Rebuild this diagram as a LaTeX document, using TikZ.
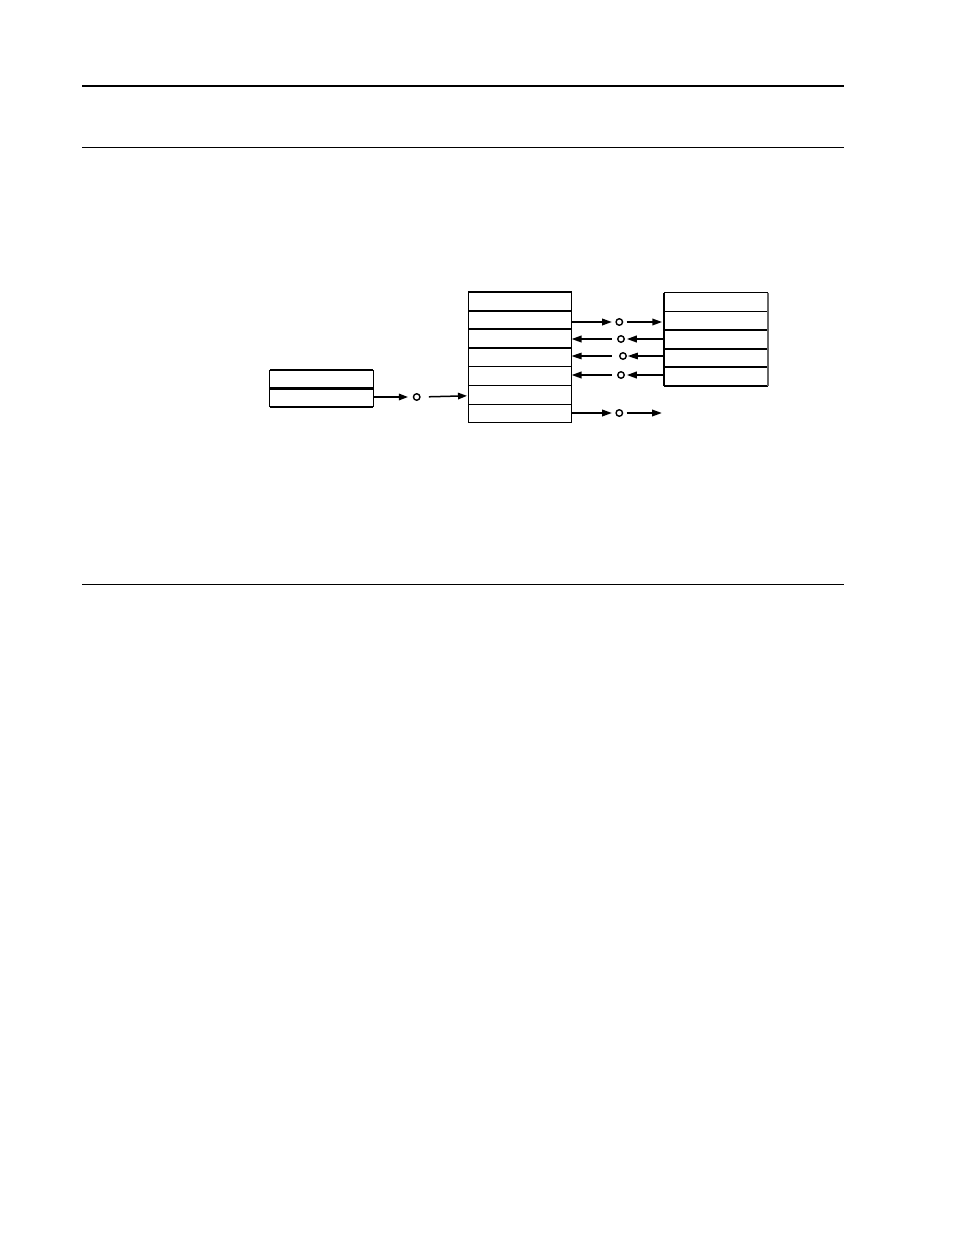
\documentclass[tikz,border=0pt]{standalone}
\usetikzlibrary{arrows.meta}
\begin{document}
\begin{tikzpicture}[x=1pt,y=-1pt,
  cell/.style={draw, line width=1pt, rectangle, minimum width=103.5pt, minimum height=18.7pt, inner sep=0pt, outer sep=0pt},
  lcell/.style={cell, minimum height=18.35pt},
  heavy/.style={line width=1.9pt},
  junction/.style={draw, circle, line width=1.4pt, minimum size=6.5pt, inner sep=0pt, outer sep=0pt},
  arr/.style={line width=2pt, -{Triangle[length=10pt,width=6.5pt]}},
  thinarr/.style={line width=1.1pt, -{Triangle[length=10pt,width=6.5pt]}},
  rule/.style={line width=1pt}
]
\useasboundingbox (0,0) rectangle (954,1235);

% page rules
\draw[rule, line width=2pt] (82,86) -- (844,86);
\draw[rule] (82,147.5) -- (844,147.5);
\draw[rule] (82,584.5) -- (844,584.5);

% middle stack
\foreach \i in {1,...,7}
  \node[cell] (m\i) at (519.75,{292+18.714*(\i-0.5)}) {};
\draw[heavy] (m1.north west) -- (m1.north east);
\draw[heavy] (m2.north west) -- (m2.north east);
\draw[heavy] (m3.north west) -- (m3.north east);
\draw[heavy] (m4.north west) -- (m4.north east);
\draw[heavy] (m3.north east) -- (m4.south east);

% right stack
\foreach \i in {1,...,5}
  \node[cell] (r\i) at (716,{292.7+18.66*(\i-0.5)}) {};
\draw[heavy] (r3.north west) -- (r3.north east);
\draw[heavy] (r4.north west) -- (r4.north east);
\draw[heavy] (r5.north west) -- (r5.north east);
\draw[heavy] (r5.south west) -- (r5.south east);
\draw[heavy] (r1.north west) -- (r5.south west);
\draw[heavy, draw=black!60] (r1.north east) -- (r5.south east);

% left stack
\foreach \i in {1,2}
  \node[lcell] (l\i) at (321.65,{370+18.35*(\i-0.5)}) {};
\draw[heavy] (l1.north west) -- (l1.north east);
\draw[line width=2.6pt] (l2.north west) -- (l2.north east);
\draw[heavy] (l2.south west) -- (l2.south east);

% junctions
\node[junction] (c0) at (416.7,397) {};
\node[junction] (c1) at (619.3,322) {};
\node[junction] (c2) at (621,339) {};
\node[junction] (c3) at (623,356) {};
\node[junction] (c4) at (621,375) {};
\node[junction] (c5) at (619.3,413) {};
\coordinate (e5) at (664,413);

% left to middle
\draw[line width=1.5pt, -{Triangle[length=9pt,width=6.5pt]}, shorten >=5.5pt] (l2.east |- c0) -- (c0.west);
\draw[line width=1.5pt, -{Triangle[length=9pt,width=6.5pt]}, shorten <=9pt, shorten >=1pt] (c0.east) -- ([yshift=1.2pt]m6.west |- c0);

% row 1: middle -> right
\draw[arr, shorten >=4pt] (m2.east |- c1) -- (c1.west);
\draw[arr, shorten <=4pt, shorten >=2pt] (c1.east) -- (r2.west |- c1);

% row 2: right -> middle
\draw[arr, shorten >=2.5pt] (r3.west |- c2) -- (c2.east);
\draw[arr, shorten <=6pt] (c2.west) -- (m3.east |- c2);

% row 3: right -> middle (thin)
\draw[thinarr, shorten >=1.5pt] (r4.west |- c3) -- (c3.east);
\draw[thinarr, shorten <=8pt] (c3.west) -- (m4.east |- c3);

% row 4: right -> middle
\draw[arr, shorten >=2.5pt] (r5.west |- c4) -- (c4.east);
\draw[arr, shorten <=6pt] (c4.west) -- (m5.east |- c4);

% row 5: middle -> out
\draw[arr, shorten >=4pt] (m7.east |- c5) -- (c5.west);
\draw[arr, shorten <=4pt, shorten >=2pt] (c5.east) -- (e5);
\end{tikzpicture}
\end{document}
